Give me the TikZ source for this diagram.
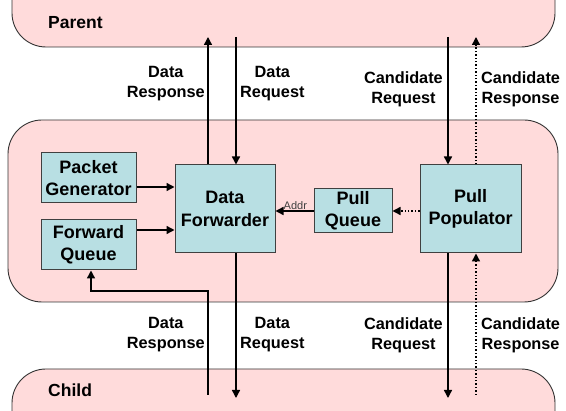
\documentclass[tikz,border=0pt]{standalone}
\usepackage{fontspec}
\setmainfont{Liberation Sans}
\usetikzlibrary{arrows.meta}

\definecolor{areapink}{RGB}{255,219,219}
\definecolor{boxteal}{RGB}{184,223,227}

\tikzset{
  area/.style={draw=black!80, fill=areapink, rounded corners=34pt, line width=0.9pt},
  block/.style={draw=black!75, fill=boxteal, line width=1pt, inner sep=0pt,
    align=center, font=\fontsize{18}{22.5}\selectfont\bfseries},
  lbl/.style={inner sep=0pt, align=center, font=\fontsize{16.3}{20}\selectfont\bfseries},
  flow/.style={line width=1.4pt, -{Triangle[length=8pt,width=8pt]}},
  pull/.style={flow, dotted},
}

\begin{document}
\begin{tikzpicture}[x=1pt,y=-1pt]
  \useasboundingbox (0,0) rectangle (566,411);
  % parent, node, child
  \draw [area] (12,-60) rectangle (555,47);
  \draw [area] (8,120) rectangle (558,302);
  \draw [area] (12,369) rectangle (555,470);
  \node [anchor=base west, inner sep=0pt, font=\fontsize{17.5}{17.5}\selectfont\bfseries] (parent) at (48,29) {Parent};
  \node [anchor=base west, inner sep=0pt, font=\fontsize{17.5}{17.5}\selectfont\bfseries] (child) at (48,397) {Child};

  \node [block, minimum width=95pt, minimum height=50pt] (pg) at (88.5,178) {Packet\\Generator};
  \node [block, minimum width=95pt, minimum height=50pt] (fq) at (88.5,245) {Forward\\Queue};
  \node [block, minimum width=100pt, minimum height=88pt] (df) at (225,209) {Data\\Forwarder};
  \node [block, minimum width=78pt, minimum height=44pt] (pq) at (353,211) {Pull\\Queue};
  \node [block, minimum width=101pt, minimum height=88pt] (pp) at (470.5,209) {Pull\\Populator};

  \draw [flow] ([yshift=-9pt]pg.east) -- ([yshift=-9pt]pg.east -| df.west);
  \draw [flow] ([yshift=15pt]fq.east) -- ([yshift=15pt]fq.east -| df.west);
  \draw [flow] (pq.west) -- (pq.west -| df.east);
  \node [anchor=base west, inner sep=0pt, text=black!75, font=\fontsize{11}{11}\selectfont] (addr) at ([xshift=8pt,yshift=1pt]pq.west -| df.east) {Addr};
  \draw [pull] (pp.west |- pq.east) -- (pq.east);

  % to and from the parent
  \coordinate (drespup) at (208,37);
  \coordinate (dreqtop) at (236,37);
  \coordinate (creqtop) at (448,37);
  \coordinate (cresptop) at (476,37);
  \draw [flow] (df.north -| drespup) -- (drespup);
  \draw [flow] (dreqtop) -- (df.north -| dreqtop);
  \draw [flow] (creqtop) -- (pp.north -| creqtop);
  \draw [pull] (pp.north -| cresptop) -- (cresptop);
  \node [lbl, anchor=east] (drlbl) at (205,84) {Data\\Response};
  \node [lbl, anchor=west] (dqlbl) at (240,84) {Data\\Request};
  \node [lbl, anchor=east] (cqlbl) at (443,89) {Candidate\\Request};
  \node [lbl, anchor=west] (cslbl) at (481,89) {Candidate\\Response};

  % to and from the child
  \coordinate (drespbot) at (208,395);
  \coordinate (turn) at (208,291);
  \coordinate (dreqbot) at (236,398);
  \coordinate (creqbot) at (448,398);
  \coordinate (crespbot) at (476,395);
  \draw [flow] (drespbot) -- (turn) -| ([xshift=2.5pt]fq.south);
  \draw [flow] (df.south -| dreqbot) -- (dreqbot);
  \draw [flow] (pp.south -| creqbot) -- (creqbot);
  \draw [pull] (crespbot) -- (pp.south -| crespbot);
  \node [lbl, anchor=east] (drlbl2) at (205,335) {Data\\Response};
  \node [lbl, anchor=west] (dqlbl2) at (240,335) {Data\\Request};
  \node [lbl, anchor=east] (cqlbl2) at (443,335) {Candidate\\Request};
  \node [lbl, anchor=west] (cslbl2) at (481,335) {Candidate\\Response};
\end{tikzpicture}
\end{document}
